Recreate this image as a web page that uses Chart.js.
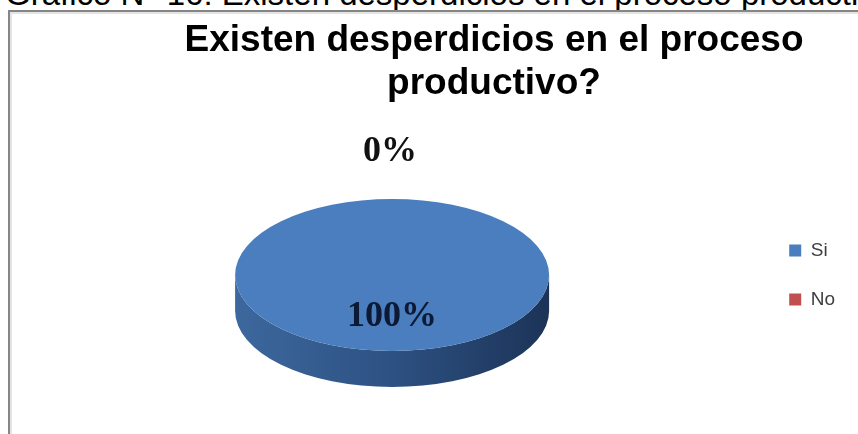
<!DOCTYPE html>
<html lang="es">
<head>
<meta charset="utf-8">
<script src="https://cdn.jsdelivr.net/npm/chart.js@4.4.0/dist/chart.umd.min.js"></script>
<style>
  body { margin: 0; width: 858px; height: 434px; overflow: hidden; background: #fff; position: relative; }
  #leyenda-sup { position: absolute; left: 5px; top: -23px; font: 33px/33px "Liberation Sans", Arial, sans-serif; color: #000; white-space: nowrap; }
  #marco { position: absolute; left: 8px; top: 10px; width: 900px; height: 460px;
           border-left: 2px solid #868686; border-top: 2px solid #868686;
           box-shadow: inset 2px 2px 0 #e4e4e4; background: #fff; }
  #grafico { position: absolute; left: 0; top: 0; width: 858px; height: 434px; }
</style>
</head>
<body>
<div id="leyenda-sup">Gráfico N° 16: Existen desperdicios en el proceso productivo</div>
<div id="marco"></div>
<div id="grafico"><canvas id="torta"></canvas></div>
<script>
  const categorias = ['Si', 'No'];
  const porcentajes = [100, 0];
  const tituloLineas = ['Existen desperdicios en el proceso', 'productivo?'];

  const coloresCara = ['#4a7ebe', '#c0504d'];
  // side wall shading, light on the left and dark on the right
  const coloresLado = [
    ['#3d689e', '#2d5182', '#1c3357'],
    ['#a5413f', '#8a3432', '#5e2221']
  ];

  // chart title, two centred lines
  const titulo = {
    id: 'titulo',
    afterDraw(chart, args, opts) {
      const ctx = chart.ctx;
      ctx.save();
      ctx.font = opts.font;
      ctx.fillStyle = opts.color;
      ctx.textAlign = 'center';
      ctx.textBaseline = 'alphabetic';
      opts.lineas.forEach((t, i) => ctx.fillText(t, opts.x, opts.y + i * opts.interlineado));
      ctx.restore();
    }
  };

  // flattens the pie into an ellipse and adds the lower wall
  const torta3d = {
    id: 'torta3d',
    beforeDatasetsDraw(chart, args, opts) {
      const ctx = chart.ctx;
      const arcos = chart.getDatasetMeta(0).data;
      const {x, y, outerRadius: r} = arcos[0];
      const ry = r * opts.inclinacion;
      ctx.save();
      arcos.forEach((arco, i) => {
        const s = arco.startAngle, e = arco.endAngle;
        if (e - s <= 0) return;
        [-2 * Math.PI, 0, 2 * Math.PI].forEach(k => {
          const a0 = Math.max(s, k), a1 = Math.min(e, Math.PI + k);
          if (a1 <= a0) return;
          const g = ctx.createLinearGradient(x - r, 0, x + r, 0);
          coloresLado[i].forEach((c, j, arr) => g.addColorStop(j / (arr.length - 1), c));
          ctx.beginPath();
          ctx.ellipse(x, y, r, ry, 0, a0, a1);
          ctx.ellipse(x, y + opts.profundidad, r, ry, 0, a1, a0, true);
          ctx.closePath();
          ctx.fillStyle = g;
          ctx.fill();
        });
      });
      ctx.translate(x, y);
      ctx.scale(1, opts.inclinacion);
      ctx.translate(-x, -y);
    },
    afterDatasetsDraw(chart, args, opts) {
      const ctx = chart.ctx;
      ctx.restore();
      // percentage labels
      const meta = chart.getDatasetMeta(0);
      const valores = chart.data.datasets[0].data;
      const total = valores.reduce((a, b) => a + b, 0);
      ctx.save();
      ctx.font = opts.fuente;
      ctx.textAlign = 'center';
      ctx.textBaseline = 'middle';
      meta.data.forEach((arco, i) => {
        const {x, y, startAngle, endAngle, outerRadius: r} = arco;
        const a = (startAngle + endAngle) / 2;
        const pct = Math.round(valores[i] / total * 100);
        let px, py;
        if (valores[i] > 0) {
          px = x + Math.cos(a) * r * 0.55;
          py = y + Math.sin(a) * r * 0.55 * opts.inclinacion;
          ctx.fillStyle = opts.colorDentro;
        } else {
          px = x + Math.cos(a) * (r + opts.separacion) - 2;
          py = y + Math.sin(a) * (r * opts.inclinacion + opts.separacion);
          ctx.fillStyle = opts.colorFuera;
        }
        ctx.fillText(pct + '%', px, py);
      });
      ctx.restore();
    }
  };

  new Chart(document.getElementById('torta'), {
    type: 'pie',
    data: {
      labels: categorias,
      datasets: [{
        data: porcentajes,
        backgroundColor: coloresCara,
        borderWidth: 0
      }]
    },
    options: {
      responsive: true,
      maintainAspectRatio: false,
      animation: false,
      events: [],
      radius: 157,
      layout: { padding: { left: 25, right: 13, top: 126, bottom: 10 } },
      plugins: {
        tooltip: { enabled: false },
        legend: {
          position: 'right',
          labels: {
            boxWidth: 12,
            boxHeight: 12,
            padding: 30,
            color: '#404040',
            font: { family: '"Liberation Sans", Arial, sans-serif', size: 19 }
          }
        },
        titulo: {
          lineas: tituloLineas,
          font: 'bold 37px "Liberation Sans", Arial, sans-serif',
          color: '#000',
          x: 494,
          y: 51,
          interlineado: 43
        },
        torta3d: {
          inclinacion: 0.484,
          profundidad: 36,
          separacion: 47,
          fuente: 'bold 36px "Liberation Serif", "Times New Roman", serif',
          colorDentro: '#0c1a36',
          colorFuera: '#111'
        }
      }
    },
    plugins: [torta3d, titulo]
  });
</script>
</body>
</html>
